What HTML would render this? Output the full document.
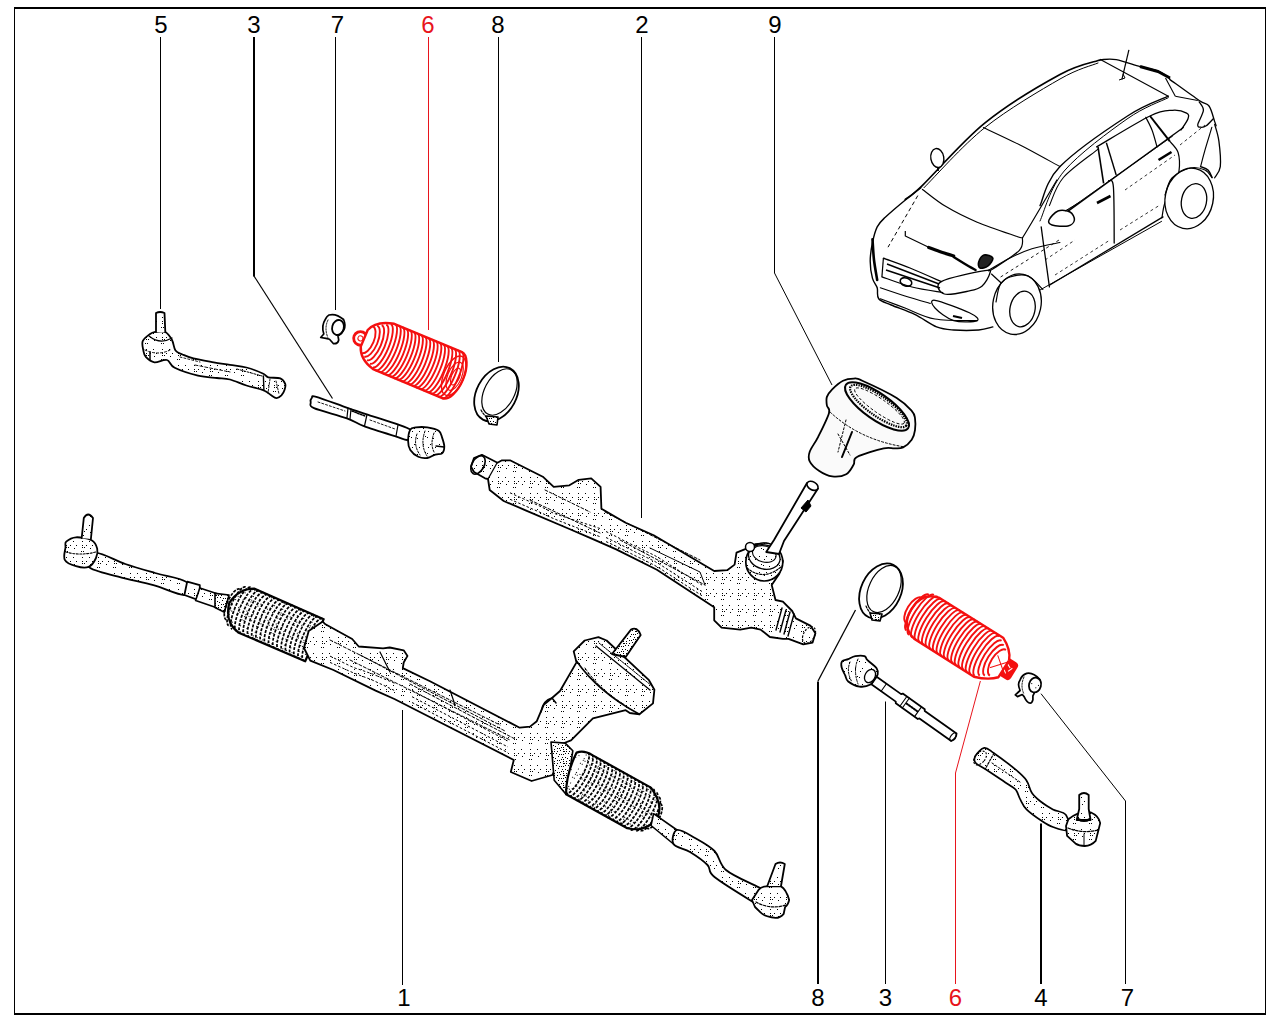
<!DOCTYPE html>
<html><head><meta charset="utf-8"><style>
html,body{margin:0;padding:0;background:#fff;width:1280px;height:1024px;overflow:hidden}
svg{display:block;font-family:"Liberation Sans",sans-serif}
</style></head><body>
<svg width="1280" height="1024" viewBox="0 0 1280 1024">
<defs><pattern id="st1" width="16" height="16" patternUnits="userSpaceOnUse"><rect width="16" height="16" fill="#fff"/><rect x="10" y="4" width="1" height="1" fill="#000"/><rect x="12" y="1" width="1" height="1" fill="#000"/><rect x="2" y="3" width="1" height="1" fill="#000"/><rect x="6" y="1" width="1" height="1" fill="#000"/><rect x="2" y="13" width="1" height="1" fill="#000"/><rect x="3" y="7" width="1" height="1" fill="#000"/><rect x="1" y="7" width="1" height="1" fill="#000"/><rect x="9" y="13" width="1" height="1" fill="#000"/><rect x="4" y="3" width="1" height="1" fill="#000"/><rect x="2" y="1" width="1" height="1" fill="#000"/></pattern><pattern id="st2" width="12" height="12" patternUnits="userSpaceOnUse"><rect width="12" height="12" fill="#fff"/><rect x="9" y="3" width="1" height="1" fill="#000"/><rect x="7" y="10" width="1" height="1" fill="#000"/><rect x="8" y="6" width="1" height="1" fill="#000"/><rect x="5" y="7" width="1" height="1" fill="#000"/><rect x="5" y="4" width="1" height="1" fill="#000"/><rect x="3" y="2" width="1" height="1" fill="#000"/><rect x="11" y="3" width="1" height="1" fill="#000"/><rect x="1" y="9" width="1" height="1" fill="#000"/><rect x="11" y="7" width="1" height="1" fill="#000"/><rect x="4" y="9" width="1" height="1" fill="#000"/><rect x="1" y="1" width="1" height="1" fill="#000"/><rect x="2" y="5" width="1" height="1" fill="#000"/><rect x="2" y="7" width="1" height="1" fill="#000"/><rect x="6" y="0" width="1" height="1" fill="#000"/><rect x="10" y="1" width="1" height="1" fill="#000"/><rect x="11" y="5" width="1" height="1" fill="#000"/><rect x="11" y="10" width="1" height="1" fill="#000"/><rect x="9" y="10" width="1" height="1" fill="#000"/><rect x="7" y="4" width="1" height="1" fill="#000"/><rect x="0" y="7" width="1" height="1" fill="#000"/></pattern><pattern id="st3" width="16" height="16" patternUnits="userSpaceOnUse"><rect width="16" height="16" fill="#fff"/><rect x="11" y="5" width="1" height="1" fill="#000"/><rect x="3" y="15" width="1" height="1" fill="#000"/><rect x="1" y="6" width="1" height="1" fill="#000"/><rect x="9" y="4" width="1" height="1" fill="#000"/><rect x="7" y="12" width="1" height="1" fill="#000"/><rect x="12" y="15" width="1" height="1" fill="#000"/><rect x="14" y="12" width="1" height="1" fill="#000"/></pattern></defs>
<rect x="14.5" y="8" width="1251" height="1006" fill="none" stroke="#000" stroke-width="1"/>
<line x1="14" y1="8" x2="1266" y2="8" stroke="#000" stroke-width="2"/>
<line x1="14" y1="1014" x2="1266" y2="1014" stroke="#000" stroke-width="2"/>
<text x="161" y="32.7" fill="#000" font-size="24" text-anchor="middle">5</text>
<text x="254" y="32.7" fill="#000" font-size="24" text-anchor="middle">3</text>
<text x="337.5" y="32.7" fill="#000" font-size="24" text-anchor="middle">7</text>
<text x="428" y="32.7" fill="#e8141c" font-size="24" text-anchor="middle">6</text>
<text x="498" y="32.7" fill="#000" font-size="24" text-anchor="middle">8</text>
<text x="642" y="32.7" fill="#000" font-size="24" text-anchor="middle">2</text>
<text x="775" y="32.7" fill="#000" font-size="24" text-anchor="middle">9</text>
<text x="404" y="1006" fill="#000" font-size="24" text-anchor="middle">1</text>
<text x="818" y="1006" fill="#000" font-size="24" text-anchor="middle">8</text>
<text x="885.5" y="1006" fill="#000" font-size="24" text-anchor="middle">3</text>
<text x="955.5" y="1006" fill="#e8141c" font-size="24" text-anchor="middle">6</text>
<text x="1041" y="1006" fill="#000" font-size="24" text-anchor="middle">4</text>
<text x="1127.5" y="1006" fill="#000" font-size="24" text-anchor="middle">7</text>
<polyline points="160.5,37.0 160.5,309.0" fill="none" stroke="#000" stroke-width="1.0" stroke-linejoin="round" />
<polyline points="254.0,37.0 254.0,276.5" fill="none" stroke="#000" stroke-width="2" stroke-linejoin="round" />
<polyline points="254.0,276.0 332.5,398.5" fill="none" stroke="#000" stroke-width="1.2" stroke-linejoin="round" />
<polyline points="335.5,37.0 335.5,310.0" fill="none" stroke="#000" stroke-width="1.0" stroke-linejoin="round" />
<polyline points="428.5,37.0 428.5,330.0" fill="none" stroke="#e8141c" stroke-width="1.0" stroke-linejoin="round" />
<polyline points="498.5,37.0 498.5,362.0" fill="none" stroke="#000" stroke-width="1.0" stroke-linejoin="round" />
<polyline points="641.5,37.0 641.5,518.0" fill="none" stroke="#000" stroke-width="1.0" stroke-linejoin="round" />
<polyline points="774.5,37.0 774.5,273.0 832.0,385.0" fill="none" stroke="#000" stroke-width="1.0" stroke-linejoin="round" />
<polyline points="402.5,985.0 402.5,710.0" fill="none" stroke="#000" stroke-width="1.0" stroke-linejoin="round" />
<polyline points="818.0,984.0 818.0,681.5" fill="none" stroke="#000" stroke-width="2" stroke-linejoin="round" />
<polyline points="818.0,681.0 855.5,610.0" fill="none" stroke="#000" stroke-width="1.3" stroke-linejoin="round" />
<polyline points="885.5,984.0 885.5,701.5" fill="none" stroke="#000" stroke-width="1.0" stroke-linejoin="round" />
<polyline points="955.5,984.0 955.5,773.0 980.4,681.0" fill="none" stroke="#e8141c" stroke-width="1.0" stroke-linejoin="round" />
<polyline points="1041.0,984.0 1041.0,823.5" fill="none" stroke="#000" stroke-width="2" stroke-linejoin="round" />
<polyline points="1125.5,984.0 1125.5,801.0 1041.0,693.7" fill="none" stroke="#000" stroke-width="1.0" stroke-linejoin="round" />
<path d="M155.2,331.9 C152.6,332.3 151.8,332.6 149.7,334.2 C147.6,335.8 143.8,338.5 142.7,341.2 C141.6,343.9 142.9,348.0 143.4,350.6 C143.9,353.2 144.0,354.9 145.8,356.9 C147.6,358.8 150.9,361.8 154.4,362.3 C157.9,362.8 163.5,359.1 166.9,360.0 C170.3,360.9 169.5,365.2 174.7,367.8 C179.9,370.4 191.0,373.9 198.0,375.6 C205.0,377.3 211.6,377.4 216.9,378.0 C222.2,378.6 225.1,378.2 230.0,379.5 C234.9,380.8 240.8,383.7 246.4,385.5 C252.1,387.3 259.9,388.9 263.9,390.5 C267.9,392.1 268.4,393.5 270.5,394.8 C272.6,396.1 274.7,398.0 276.5,398.1 C278.3,398.2 280.0,396.8 281.4,395.4 C282.8,393.9 284.1,391.3 284.7,389.4 C285.3,387.5 285.9,385.7 285.2,383.9 C284.5,382.1 283.1,379.5 280.3,378.4 C277.5,377.3 271.2,378.1 268.3,377.3 C265.4,376.5 266.4,375.1 262.8,373.5 C259.2,371.9 251.9,368.9 246.4,367.5 C240.9,366.1 235.4,365.7 230.0,364.8 C224.6,363.9 219.8,363.4 213.7,362.3 C207.6,361.2 198.6,359.7 193.4,358.4 C188.2,357.1 185.5,355.8 182.5,354.5 C179.5,353.2 177.2,353.0 175.5,350.6 C173.8,348.2 173.7,343.1 172.0,340.0 C170.3,336.9 168.1,333.4 165.3,332.0 C162.5,330.6 157.8,331.5 155.2,331.9 Z" fill="url(#st1)" stroke="#000" stroke-width="1.8" stroke-linejoin="round" stroke-linecap="round" />
<path d="M156,332 L156,313 Q160,311 164.5,313 L165.3,332" fill="url(#st1)" stroke="#000" stroke-width="1.8" stroke-linejoin="round" stroke-linecap="round" />
<path d="M149,336 Q160,345 172,338" fill="none" stroke="#000" stroke-width="1.2" stroke-linejoin="round" stroke-linecap="round" />
<path d="M145,350 Q158,356 170,350" fill="none" stroke="#000" stroke-width="1.0" stroke-linejoin="round" stroke-linecap="round" stroke-dasharray="2 2"/>
<path d="M150,352 L150,360" fill="none" stroke="#000" stroke-width="1.5" stroke-linejoin="round" stroke-linecap="round" />
<path d="M263.4,376 L263.9,390.5" fill="none" stroke="#000" stroke-width="1.4" stroke-linejoin="round" stroke-linecap="round" />
<path d="M270,379 L268,393 M276,381 L279,394" fill="none" stroke="#000" stroke-width="0.9" stroke-linejoin="round" stroke-linecap="round" stroke-dasharray="2 1.5"/>
<path d="M237,369 L262,376" fill="none" stroke="#000" stroke-width="1.0" stroke-linejoin="round" stroke-linecap="round" stroke-dasharray="2 1.5"/>
<path d="M195,365 L230,372" fill="none" stroke="#000" stroke-width="0.9" stroke-linejoin="round" stroke-linecap="round" stroke-dasharray="3 2"/>
<path d="M180,357 L200,362" fill="none" stroke="#000" stroke-width="0.9" stroke-linejoin="round" stroke-linecap="round" stroke-dasharray="2 2"/>
<path d="M329,315 Q336,313 343.6,319.5 Q346,325 344,329.6 Q342,334 338,336 L338.7,340 Q338,344 333.5,343.7 L329.5,339.3 L326,338.4 L320.7,337.5 L323.8,334 Q321,326 325.5,319 Q327,316 329,315 Z" fill="#fff" stroke="#000" stroke-width="1.7" stroke-linejoin="round" stroke-linecap="round" />
<ellipse cx="338" cy="327.5" rx="5.8" ry="7.6" transform="rotate(15 338 327.5)" fill="none" stroke="#000" stroke-width="1.8"/>
<path d="M328,320 Q324,328 328,338" fill="none" stroke="#000" stroke-width="1.0" stroke-linejoin="round" stroke-linecap="round" stroke-dasharray="1.5 1.5"/>
<g transform="translate(362,338.5) rotate(22.7)">
<circle cx="-1.5" cy="0.5" r="6.8" fill="#fff" stroke="#f41010" stroke-width="2.8"/>
<circle cx="-1.5" cy="0.5" r="2.5" fill="none" stroke="#f41010" stroke-width="1"/>
<path d="M2,-10 Q6,-22 24,-26 L97,-26 A12 25 0 0 1 97,24 L22,24 Q6,20 2,8 Z" fill="#fff" stroke="#f41010" stroke-width="2.4" stroke-linejoin="round" stroke-linecap="round" />
<path d="M5.0,-15.6 A7 14.6 0 0 1 5.0,13.6" fill="none" stroke="#f41010" stroke-width="1.9"/>
<path d="M9.0,-17.8 A7 16.8 0 0 1 9.0,15.8" fill="none" stroke="#f41010" stroke-width="1.9"/>
<path d="M13.0,-20.0 A7 19.0 0 0 1 13.0,18.0" fill="none" stroke="#f41010" stroke-width="1.9"/>
<path d="M17.0,-22.2 A7 21.2 0 0 1 17.0,20.2" fill="none" stroke="#f41010" stroke-width="1.9"/>
<path d="M21.0,-24.4 A7 23.4 0 0 1 21.0,22.4" fill="none" stroke="#f41010" stroke-width="1.9"/>
<path d="M25.0,-26.0 A7 25.0 0 0 1 25.0,24.0" fill="none" stroke="#f41010" stroke-width="1.9"/>
<path d="M29.0,-26.0 A7 25.0 0 0 1 29.0,24.0" fill="none" stroke="#f41010" stroke-width="1.9"/>
<path d="M33.0,-26.0 A7 25.0 0 0 1 33.0,24.0" fill="none" stroke="#f41010" stroke-width="1.9"/>
<path d="M37.0,-26.0 A7 25.0 0 0 1 37.0,24.0" fill="none" stroke="#f41010" stroke-width="1.9"/>
<path d="M41.0,-26.0 A7 25.0 0 0 1 41.0,24.0" fill="none" stroke="#f41010" stroke-width="1.9"/>
<path d="M45.0,-26.0 A7 25.0 0 0 1 45.0,24.0" fill="none" stroke="#f41010" stroke-width="1.9"/>
<path d="M49.0,-26.0 A7 25.0 0 0 1 49.0,24.0" fill="none" stroke="#f41010" stroke-width="1.9"/>
<path d="M53.0,-26.0 A7 25.0 0 0 1 53.0,24.0" fill="none" stroke="#f41010" stroke-width="1.9"/>
<path d="M57.0,-26.0 A7 25.0 0 0 1 57.0,24.0" fill="none" stroke="#f41010" stroke-width="1.9"/>
<path d="M61.0,-26.0 A7 25.0 0 0 1 61.0,24.0" fill="none" stroke="#f41010" stroke-width="1.9"/>
<path d="M65.0,-26.0 A7 25.0 0 0 1 65.0,24.0" fill="none" stroke="#f41010" stroke-width="1.9"/>
<path d="M69.0,-26.0 A7 25.0 0 0 1 69.0,24.0" fill="none" stroke="#f41010" stroke-width="1.9"/>
<path d="M73.0,-26.0 A7 25.0 0 0 1 73.0,24.0" fill="none" stroke="#f41010" stroke-width="1.9"/>
<path d="M77.0,-26.0 A7 25.0 0 0 1 77.0,24.0" fill="none" stroke="#f41010" stroke-width="1.9"/>
<path d="M81.0,-26.0 A7 25.0 0 0 1 81.0,24.0" fill="none" stroke="#f41010" stroke-width="1.9"/>
<path d="M85.0,-26.0 A7 25.0 0 0 1 85.0,24.0" fill="none" stroke="#f41010" stroke-width="1.9"/>
<path d="M89.0,-26.0 A7 25.0 0 0 1 89.0,24.0" fill="none" stroke="#f41010" stroke-width="1.9"/>
<path d="M93.0,-26.0 A7 25.0 0 0 1 93.0,24.0" fill="none" stroke="#f41010" stroke-width="1.9"/>
<path d="M97.0,-26.0 A7 25.0 0 0 1 97.0,24.0" fill="none" stroke="#f41010" stroke-width="1.9"/>
<ellipse cx="99" cy="-1" rx="10" ry="21" fill="none" stroke="#f41010" stroke-width="1.4"/>
<ellipse cx="100" cy="-1" rx="7" ry="15" fill="none" stroke="#f41010" stroke-width="1.2"/>
<ellipse cx="101" cy="-1" rx="4" ry="9" fill="none" stroke="#f41010" stroke-width="1.1"/>
</g>
<ellipse cx="496.5" cy="394" rx="20" ry="29" transform="rotate(28 496.5 394)" fill="#fff" stroke="#000" stroke-width="1.8"/>
<ellipse cx="499.5" cy="392" rx="15" ry="25" transform="rotate(28 499.5 392)" fill="none" stroke="#000" stroke-width="1.2"/>
<path d="M481,410 Q486,419 495,422" fill="none" stroke="#000" stroke-width="1.2" stroke-linejoin="round" stroke-linecap="round" stroke-dasharray="2 1.5"/>
<path d="M486,416 L489,424 L497,425 L498,417 Z" fill="url(#st2)" stroke="#000" stroke-width="1.6" stroke-linejoin="round" stroke-linecap="round" />
<path d="M311.8,397.9 C312.7,396.9 310.3,395.1 316.3,396.8 C322.3,398.5 339.3,405.1 348.0,408.1 C356.7,411.1 358.0,411.3 368.4,414.9 C378.8,418.5 403.7,425.5 410.3,429.6 C416.9,433.8 410.6,438.7 408.1,439.8 C405.7,440.9 403.0,438.7 395.6,436.4 C388.2,434.1 372.0,429.2 363.9,426.2 C355.8,423.2 355.2,421.3 346.9,418.3 C338.6,415.3 320.0,410.7 314.0,408.1 C308.0,405.5 311.1,404.2 310.7,402.5 C310.3,400.8 310.9,398.8 311.8,397.9 Z" fill="#fff" stroke="#000" stroke-width="1.8" stroke-linejoin="round" stroke-linecap="round" />
<path d="M348,408.1 L346.9,418.3 M351,409 L350,419 M367,414.5 L364.5,426 M398,425 L396,436" fill="none" stroke="#000" stroke-width="1.2" stroke-linejoin="round" stroke-linecap="round" />
<path d="M318,402 L345,411 M370,420 L395,429" fill="none" stroke="#000" stroke-width="0.9" stroke-linejoin="round" stroke-linecap="round" stroke-dasharray="2 2"/>
<path d="M352,411 L365,416" fill="none" stroke="#000" stroke-width="1.6" stroke-linejoin="round" stroke-linecap="round" stroke-dasharray="1.5 1.5"/>
<path d="M410.3,429.6 C411.6,427.3 413.2,427.8 416.0,427.4 C418.8,427.0 423.5,426.8 427.3,427.4 C431.1,428.0 436.2,429.1 438.7,430.8 C441.2,432.5 441.2,435.0 442.1,437.6 C443.0,440.2 444.3,444.0 444.3,446.6 C444.3,449.2 443.6,452.1 442.1,453.4 C440.6,454.7 437.8,453.8 435.3,454.6 C432.8,455.4 430.1,457.6 427.3,458.0 C424.5,458.4 421.1,458.1 418.3,456.8 C415.5,455.5 412.0,452.6 410.3,450.0 C408.6,447.4 408.1,444.4 408.1,441.0 C408.1,437.6 409.0,431.9 410.3,429.6 Z" fill="url(#st3)" stroke="#000" stroke-width="1.8" stroke-linejoin="round" stroke-linecap="round" />
<path d="M417,434 Q413,445 420,455 M425,431 Q420,445 427,456 M434,433 Q430,444 434,452" fill="none" stroke="#000" stroke-width="1.0" stroke-linejoin="round" stroke-linecap="round" stroke-dasharray="2 1.5"/>
<path d="M436,446 L444,447" fill="none" stroke="#000" stroke-width="1.3" stroke-linejoin="round" stroke-linecap="round" />
<polygon points="471.0,466.6 474.0,458.0 481.9,454.8 497.5,462.7 502.0,460.3 510.0,460.3 542.8,476.7 553.7,486.9 569.4,485.3 578.7,479.8 591.2,478.3 600.6,486.9 601.4,508.7 625.6,522.8 653.7,535.3 714.2,571.0 727.2,570.2 734.6,564.6 736.5,552.6 745.8,548.9 755.0,544.2 766.2,543.3 777.3,549.8 782.9,561.0 779.2,574.0 771.7,585.0 775.5,600.0 782.9,601.7 792.2,611.0 795.9,618.4 810.7,625.9 815.4,633.3 812.6,642.6 803.3,644.4 788.5,638.9 782.9,638.9 769.9,637.0 760.6,629.6 751.3,627.7 740.2,629.6 721.6,627.7 714.2,620.3 714.2,607.3 656.9,569.7 616.2,549.4 591.2,538.4 569.4,529.0 525.6,510.3 503.7,501.0 489.7,490.0 488.0,479.0 485.0,478.3 474.0,472.0" fill="url(#st1)" stroke="#000" stroke-width="1.8" stroke-linejoin="round" />
<ellipse cx="478" cy="465" rx="6" ry="10" transform="rotate(30 478 465)" fill="none" stroke="#000" stroke-width="1.6"/>
<path d="M488,479 L497,463" fill="none" stroke="#000" stroke-width="1.2" stroke-linejoin="round" stroke-linecap="round" />
<path d="M530,500 L600,533 M545,490 L590,512" fill="none" stroke="#000" stroke-width="1.0" stroke-linejoin="round" stroke-linecap="round" stroke-dasharray="3 2"/>
<path d="M605,512 L700,560 M620,540 L705,585" fill="none" stroke="#000" stroke-width="1.0" stroke-linejoin="round" stroke-linecap="round" stroke-dasharray="3 2"/>
<path d="M650,548 L700,572 L705,585" fill="none" stroke="#000" stroke-width="1.0" stroke-linejoin="round" stroke-linecap="round" />
<polyline points="606.0,531.5 612.0,534.5 618.0,537.5 624.0,540.7 630.0,543.7 636.0,546.5 642.0,549.4 648.0,552.3 654.0,555.1 660.0,558.6 666.0,562.4 672.0,566.2 678.0,570.0 684.0,573.8 690.0,577.5 696.0,581.3 702.0,585.1" fill="none" stroke="#000" stroke-width="1.0" stroke-dasharray="2.5 2"/>
<polyline points="606.0,537.5 612.0,540.4 618.0,543.3 624.0,546.4 630.0,549.3 636.0,552.3 642.0,555.2 648.0,558.1 654.0,561.0 660.0,564.5 666.0,568.4 672.0,572.2 678.0,576.1 684.0,579.9 690.0,583.8 696.0,587.6 702.0,591.5" fill="none" stroke="#000" stroke-width="1.0" stroke-dasharray="2.5 2"/>
<polyline points="606.0,541.6 612.0,544.3 618.0,547.1 624.0,550.1 630.0,553.1 636.0,556.1 642.0,559.1 648.0,562.0 654.0,565.0 660.0,568.5 666.0,572.4 672.0,576.3 678.0,580.2 684.0,584.1 690.0,588.0 696.0,591.8 702.0,595.7" fill="none" stroke="#000" stroke-width="1.0" stroke-dasharray="2.5 2"/>
<polyline points="510.0,492.8 516.0,495.5 522.0,498.2 528.0,500.8 534.0,503.5 540.0,506.2 546.0,509.2 552.0,512.5 558.0,514.8 564.0,516.8 570.0,518.7 576.0,520.6 582.0,522.6 588.0,524.5 594.0,526.5 600.0,528.5" fill="none" stroke="#000" stroke-width="1.0" stroke-dasharray="2.5 2"/>
<polyline points="510.0,499.3 516.0,501.9 522.0,504.5 528.0,507.1 534.0,509.7 540.0,512.3 546.0,515.1 552.0,517.9 558.0,520.4 564.0,522.7 570.0,525.0 576.0,527.4 582.0,529.7 588.0,532.0 594.0,534.4 600.0,536.7" fill="none" stroke="#000" stroke-width="1.0" stroke-dasharray="2.5 2"/>
<ellipse cx="764.3" cy="562" rx="18.5" ry="19" fill="url(#st3)" stroke="#000" stroke-width="1.7"/>
<ellipse cx="764.3" cy="557" rx="16" ry="12" transform="rotate(15 764.3 557)" fill="none" stroke="#000" stroke-width="1.3"/>
<ellipse cx="764.3" cy="554" rx="12" ry="8" transform="rotate(15 764.3 554)" fill="none" stroke="#000" stroke-width="1.1"/>
<path d="M747,568 Q764,582 782,566" fill="none" stroke="#000" stroke-width="1.2" stroke-linejoin="round" stroke-linecap="round" stroke-dasharray="2 1.5"/>
<circle cx="750" cy="547" r="4.5" fill="#fff" stroke="#000" stroke-width="1.5"/>
<polygon points="766.2,552.0 774.0,540.0 807.0,483.0 818.0,488.6 784.0,541.0 779.0,554.0" fill="#fff" stroke="#000" stroke-width="1.8" stroke-linejoin="round" />
<ellipse cx="812.5" cy="485.8" rx="6" ry="4" transform="rotate(30 812.5 485.8)" fill="#fff" stroke="#000" stroke-width="1.6"/>
<polygon points="801.0,508.0 808.0,500.0 811.0,506.0 806.0,512.0" fill="#000" stroke="#000" stroke-width="1" stroke-linejoin="round" />
<path d="M782,608 L776,630 M786,610 L780,632 M790,612 L784,634 M794,614 L788,636" fill="none" stroke="#000" stroke-width="1.4" stroke-linejoin="round" stroke-linecap="round" />
<ellipse cx="809" cy="635" rx="5.5" ry="9" transform="rotate(30 809 635)" fill="none" stroke="#000" stroke-width="1.2" stroke-dasharray="2 1.5"/>
<path d="M826.9,396.9 C827.8,394.2 829.5,392.0 832.2,389.3 C834.9,386.6 839.4,382.5 843.0,380.7 C846.6,378.9 850.5,378.6 853.7,378.6 C856.9,378.6 855.1,377.5 862.3,380.7 C869.5,383.9 888.5,392.9 896.7,397.9 C904.9,402.9 908.7,407.4 911.7,410.8 C914.8,414.2 914.5,415.1 915.0,418.3 C915.5,421.5 915.5,426.6 915.0,430.2 C914.5,433.8 913.7,436.9 911.7,439.8 C909.7,442.7 906.0,446.0 903.1,447.4 C900.2,448.8 897.7,448.2 894.5,448.4 C891.3,448.6 890.0,447.0 883.8,448.4 C877.5,449.8 862.0,454.3 857.0,457.0 C852.0,459.7 855.5,461.6 853.7,464.5 C851.9,467.4 849.8,472.2 846.2,474.2 C842.6,476.2 836.7,476.9 832.2,476.4 C827.7,475.9 823.0,473.5 819.3,471.0 C815.5,468.5 811.3,464.5 809.7,461.3 C808.1,458.1 808.3,455.8 809.7,451.7 C811.1,447.6 815.1,443.1 818.3,436.6 C821.5,430.2 827.6,418.2 829.0,413.0 C830.4,407.8 827.2,408.2 826.9,405.5 C826.5,402.8 826.0,399.6 826.9,396.9 Z" fill="#fafafa" stroke="#000" stroke-width="1.8" stroke-linejoin="round" stroke-linecap="round" />
<ellipse cx="877" cy="406.5" rx="38" ry="13" transform="rotate(35 877 406.5)" fill="none" stroke="#000" stroke-width="2.0"/>
<ellipse cx="878.5" cy="406" rx="34" ry="10" transform="rotate(35 878.5 406)" fill="none" stroke="#000" stroke-width="2.2" stroke-dasharray="1.5 1"/>
<ellipse cx="879.5" cy="406" rx="30" ry="7" transform="rotate(35 879.5 406)" fill="none" stroke="#000" stroke-width="0.9" stroke-dasharray="3 2"/>
<path d="M830,412 Q860,440 905,447" fill="none" stroke="#000" stroke-width="1.0" stroke-linejoin="round" stroke-linecap="round" stroke-dasharray="2 2"/>
<path d="M838,434 L850,455 M846,420 L838,452" fill="none" stroke="#000" stroke-width="1.0" stroke-linejoin="round" stroke-linecap="round" stroke-dasharray="2 2"/>
<path d="M852,432 L842,457" fill="none" stroke="#000" stroke-width="2.0" stroke-linejoin="round" stroke-linecap="round" />
<path d="M905.3,199.4 C908.2,197.1 909.2,198.1 922.5,185.3 C935.8,172.5 962.1,141.3 985.0,122.8 C1007.9,104.3 1040.7,84.9 1060.0,74.4 C1079.3,63.9 1094.0,62.2 1100.8,59.7" fill="none" stroke="#000" stroke-width="1.7" stroke-linejoin="round" stroke-linecap="round" />
<path d="M924.0,187.7 C934.2,177.7 962.3,145.6 985.0,127.5 C1007.7,109.4 1041.2,89.8 1060.0,79.0 C1078.8,68.2 1091.7,65.7 1098.0,63.0" fill="none" stroke="#000" stroke-width="1.0" stroke-linejoin="round" stroke-linecap="round" />
<path d="M1100.8,59.7 C1103.4,59.7 1109.6,58.5 1116.2,59.7 C1122.8,60.9 1133.2,64.8 1140.2,66.7 C1147.2,68.6 1153.5,69.0 1158.4,71.0 C1163.3,73.0 1167.8,77.2 1169.7,78.5" fill="none" stroke="#000" stroke-width="1.3" stroke-linejoin="round" stroke-linecap="round" />
<polyline points="1140.0,66.5 1158.0,71.5 1170.0,78.0" fill="none" stroke="#000" stroke-width="3.0" stroke-linejoin="round" />
<path d="M1169.7,79.4 C1174.6,82.9 1192.7,96.1 1199.2,100.5 C1205.8,104.9 1206.4,102.5 1209.0,106.0 C1211.6,109.5 1213.5,118.3 1214.7,121.6 C1215.9,124.9 1215.9,125.1 1216.1,125.8" fill="none" stroke="#000" stroke-width="1.3" stroke-linejoin="round" stroke-linecap="round" />
<polyline points="1165.5,78.0 1175.3,96.2" fill="none" stroke="#000" stroke-width="1.1" stroke-linejoin="round" />
<polyline points="1175.3,96.2 1197.8,100.5" fill="none" stroke="#000" stroke-width="1.1" stroke-linejoin="round" />
<path d="M1199.2,101.9 C1199.9,103.3 1203.6,106.5 1203.4,110.3 C1203.2,114.0 1198.3,121.6 1197.8,124.4 C1197.3,127.2 1199.2,127.0 1200.6,127.2 C1202.0,127.4 1204.1,127.2 1206.2,125.8 C1208.3,124.4 1212.1,119.9 1213.3,118.7" fill="none" stroke="#000" stroke-width="1.3" stroke-linejoin="round" stroke-linecap="round" />
<path d="M1214.7,124.4 C1215.4,127.2 1218.0,134.2 1218.9,141.2 C1219.8,148.2 1221.0,160.5 1220.3,166.6 C1219.6,172.7 1215.6,175.9 1214.7,177.8" fill="none" stroke="#000" stroke-width="1.3" stroke-linejoin="round" stroke-linecap="round" />
<path d="M1211.9,127.2 C1210.8,131.0 1206.9,143.4 1205.0,150.0 C1203.1,156.6 1201.3,163.8 1200.6,166.6" fill="none" stroke="#000" stroke-width="1.1" stroke-linejoin="round" stroke-linecap="round" />
<path d="M1200.6,166.6 C1201.8,167.2 1206.1,168.2 1208.0,170.0 C1209.9,171.8 1211.3,176.2 1212.0,177.5" fill="none" stroke="#000" stroke-width="1.5" stroke-linejoin="round" stroke-linecap="round" />
<path d="M1100.8,59.7 L1168.3,96.2" fill="none" stroke="#000" stroke-width="1.1" stroke-linejoin="round" stroke-linecap="round" />
<path d="M983.4,127.5 C989.5,130.4 1007.2,138.5 1020.0,145.0 C1032.8,151.5 1053.3,163.0 1060.0,166.6" fill="none" stroke="#000" stroke-width="1.1" stroke-linejoin="round" stroke-linecap="round" />
<path d="M1168.3,96.2 C1161.5,99.5 1145.5,104.3 1127.5,116.0 C1109.5,127.7 1074.6,151.7 1060.0,166.6 C1045.4,181.5 1043.3,199.1 1040.0,205.6" fill="none" stroke="#000" stroke-width="1.4" stroke-linejoin="round" stroke-linecap="round" />
<path d="M1168.3,97.7 C1161.4,101.2 1144.3,106.8 1127.0,119.0 C1109.7,131.2 1078.7,154.0 1064.2,171.0 C1049.7,188.0 1044.0,212.7 1040.0,221.0" fill="none" stroke="#000" stroke-width="1.0" stroke-linejoin="round" stroke-linecap="round" />
<polyline points="1128.9,49.8 1121.9,79.4" fill="none" stroke="#000" stroke-width="1.2" stroke-linejoin="round" />
<polyline points="1119.0,80.0 1125.0,78.0 1123.0,74.0" fill="none" stroke="#000" stroke-width="1.0" stroke-linejoin="round" />
<path d="M1056.9,180.0 C1052.7,187.0 1037.6,212.6 1031.9,222.2 C1026.2,231.8 1024.1,235.2 1022.5,237.8" fill="none" stroke="#000" stroke-width="1.2" stroke-linejoin="round" stroke-linecap="round" />
<ellipse cx="937.3" cy="158" rx="6.5" ry="9.5" transform="rotate(-10 937.3 158)" fill="#fff" stroke="#000" stroke-width="1.4"/>
<polyline points="938.0,167.0 938.0,171.0" fill="none" stroke="#000" stroke-width="1.8" stroke-linejoin="round" />
<path d="M921.0,187.8 C918.6,189.6 912.9,193.8 906.9,198.7 C900.9,203.6 890.0,212.8 885.0,217.5 C880.0,222.2 879.3,222.7 877.2,226.9 C875.1,231.1 873.7,236.8 872.5,242.5 C871.3,248.2 870.2,255.2 870.2,261.2 C870.2,267.2 871.3,274.0 872.5,278.4 C873.7,282.8 876.2,284.4 877.2,287.8 C878.2,291.2 876.4,295.8 878.7,298.7 C881.0,301.6 885.2,302.4 891.2,305.0 C897.2,307.6 907.1,310.8 914.7,314.4 C922.3,318.0 930.1,324.3 936.6,326.9 C943.1,329.5 946.7,329.5 953.7,330.0 C960.7,330.5 972.2,330.5 978.7,330.0 C985.2,329.5 990.4,327.4 992.8,326.9" fill="none" stroke="#000" stroke-width="1.4" stroke-linejoin="round" stroke-linecap="round" />
<path d="M922.5,189.4 C926.4,192.3 936.9,201.1 946.0,206.6 C955.1,212.1 965.5,217.3 977.2,222.2 C988.9,227.1 1008.7,233.6 1016.2,236.2 C1023.8,238.8 1021.5,237.5 1022.5,237.8" fill="none" stroke="#000" stroke-width="1.2" stroke-linejoin="round" stroke-linecap="round" />
<path d="M1022.5,237.8 C1022.0,239.9 1024.3,245.1 1019.4,250.3 C1014.4,255.5 998.0,265.6 992.8,269.0 C987.6,272.4 988.9,270.3 988.1,270.6" fill="none" stroke="#000" stroke-width="1.2" stroke-linejoin="round" stroke-linecap="round" />
<polyline points="917.8,195.6 888.0,247.2" fill="none" stroke="#000" stroke-width="1.0" stroke-linejoin="round" stroke-dasharray="4 3"/>
<path d="M883.4,258.1 C887.8,259.8 900.4,264.1 910.0,268.0 C919.6,271.9 936.0,279.3 941.2,281.6" fill="none" stroke="#000" stroke-width="1.2" stroke-linejoin="round" stroke-linecap="round" />
<path d="M881.9,276.9 C886.9,278.6 901.9,284.4 912.0,287.0 C922.1,289.6 937.7,291.6 942.8,292.5" fill="none" stroke="#000" stroke-width="1.2" stroke-linejoin="round" stroke-linecap="round" />
<polyline points="883.4,258.1 881.9,276.9" fill="none" stroke="#000" stroke-width="1.2" stroke-linejoin="round" />
<polyline points="887.0,264.0 939.0,284.0" fill="none" stroke="#000" stroke-width="1.4" stroke-linejoin="round" />
<polyline points="886.0,270.0 940.0,288.0" fill="none" stroke="#000" stroke-width="1.4" stroke-linejoin="round" />
<ellipse cx="906" cy="282" rx="6" ry="4" transform="rotate(20 906 282)" fill="none" stroke="#000" stroke-width="1.6"/>
<path d="M872.5,239.4 C872.8,242.8 873.2,253.2 874.0,260.0 C874.8,266.8 876.7,276.7 877.2,280.0" fill="none" stroke="#000" stroke-width="2.6" stroke-linejoin="round" stroke-linecap="round" />
<path d="M941.2,281.6 C948.0,277.7 976.9,271.9 985.0,270.6 C993.1,269.3 990.2,271.1 989.7,273.7 C989.2,276.3 985.3,283.3 981.9,286.2 C978.5,289.1 975.6,289.6 969.4,290.9 C963.1,292.2 949.1,295.6 944.4,294.0 C939.7,292.4 934.4,285.5 941.2,281.6 Z" fill="none" stroke="#000" stroke-width="1.3" stroke-linejoin="round" stroke-linecap="round" />
<path d="M880.3,287.8 C884.4,289.2 896.7,293.4 905.0,296.0 C913.3,298.6 926.1,302.2 930.3,303.4" fill="none" stroke="#000" stroke-width="1.1" stroke-linejoin="round" stroke-linecap="round" />
<path d="M880.3,298.7 C884.4,300.2 895.9,304.6 905.0,308.0 C914.1,311.4 923.0,316.9 935.0,319.0 C947.0,321.1 970.2,320.3 977.2,320.6" fill="none" stroke="#000" stroke-width="1.1" stroke-linejoin="round" stroke-linecap="round" />
<path d="M935.0,300.3 C940.7,301.1 962.4,309.4 969.4,312.8 C976.4,316.2 979.8,319.3 977.2,320.6 C974.6,321.9 960.7,322.7 953.7,320.6 C946.7,318.5 938.1,311.4 935.0,308.0 C931.9,304.6 929.3,299.5 935.0,300.3 Z" fill="none" stroke="#000" stroke-width="1.2" stroke-linejoin="round" stroke-linecap="round" />
<polyline points="953.0,316.0 962.0,318.0" fill="none" stroke="#000" stroke-width="2.2" stroke-linejoin="round" />
<polyline points="905.3,231.0 905.3,236.0 928.7,247.2" fill="none" stroke="#000" stroke-width="1.2" stroke-linejoin="round" />
<path d="M928.7,247.5 C930.8,248.2 936.8,250.6 941.0,252.0 C945.2,253.4 951.6,255.3 953.7,256.0" fill="none" stroke="#000" stroke-width="3.2" stroke-linejoin="round" stroke-linecap="round" />
<path d="M953.7,257.0 C955.6,258.2 961.4,261.8 965.0,264.0 C968.6,266.2 973.8,269.0 975.6,270.0" fill="none" stroke="#000" stroke-width="2.4" stroke-linejoin="round" stroke-linecap="round" />
<path d="M978.7,262.0 C979.4,259.8 981.6,255.7 984.0,255.0 C986.4,254.3 992.1,256.2 992.8,258.0 C993.5,259.8 990.1,264.3 988.0,266.0 C985.9,267.7 981.5,268.7 980.0,268.0 C978.5,267.3 978.0,264.2 978.7,262.0 Z" fill="#222" stroke="#000" stroke-width="1.6" stroke-linejoin="round" stroke-linecap="round" />
<polyline points="991.2,273.7 1013.1,294.0" fill="none" stroke="#000" stroke-width="1.2" stroke-linejoin="round" />
<polyline points="1011.0,291.0 1015.0,296.0" fill="none" stroke="#000" stroke-width="2.5" stroke-linejoin="round" />
<path d="M988.1,270.6 C991.8,268.5 1002.7,261.6 1010.0,258.0 C1017.3,254.3 1023.6,251.3 1031.9,248.7 C1040.2,246.1 1055.3,243.5 1060.0,242.5" fill="none" stroke="#000" stroke-width="1.1" stroke-linejoin="round" stroke-linecap="round" />
<polyline points="1000.6,277.0 1060.0,239.4" fill="none" stroke="#000" stroke-width="0.9" stroke-linejoin="round" stroke-dasharray="3 3"/>
<ellipse cx="1017" cy="304.2" rx="24" ry="30.5" transform="rotate(12 1017 304.2)" fill="#fff" stroke="#000" stroke-width="1.3"/>
<ellipse cx="1022.5" cy="309" rx="12.5" ry="18" transform="rotate(12 1022.5 309)" fill="none" stroke="#000" stroke-width="1.3"/>
<path d="M996.0,302.0 C996.7,299.2 997.7,289.2 1000.0,285.0 C1002.3,280.8 1005.3,278.5 1010.0,277.0 C1014.7,275.5 1022.5,273.9 1028.0,276.0 C1033.5,278.1 1040.3,287.2 1042.8,289.4" fill="none" stroke="#000" stroke-width="1.2" stroke-linejoin="round" stroke-linecap="round" />
<path d="M1041.2,226.9 C1041.8,231.6 1043.6,245.0 1045.0,255.0 C1046.4,265.0 1048.7,281.6 1049.4,286.9" fill="none" stroke="#000" stroke-width="1.3" stroke-linejoin="round" stroke-linecap="round" />
<path d="M1049.4,205.6 C1051.7,200.9 1055.3,186.9 1063.4,177.5 C1071.5,168.1 1092.1,154.1 1097.8,149.4" fill="none" stroke="#000" stroke-width="1.1" stroke-linejoin="round" stroke-linecap="round" />
<path d="M1096.6,146.9 C1105.5,141.8 1137.3,122.1 1150.0,116.0 C1162.7,109.9 1166.4,110.8 1172.5,110.3 C1178.6,109.8 1184.0,111.7 1186.6,113.1 C1189.2,114.5 1188.9,115.9 1188.0,118.7 C1187.1,121.5 1182.2,128.1 1181.0,130.0" fill="none" stroke="#000" stroke-width="1.3" stroke-linejoin="round" stroke-linecap="round" />
<polyline points="1065.0,213.4 1183.7,127.2" fill="none" stroke="#000" stroke-width="1.4" stroke-linejoin="round" />
<polyline points="1068.0,210.0 1172.8,136.0" fill="none" stroke="#000" stroke-width="0.9" stroke-linejoin="round" />
<polyline points="1098.0,146.9 1103.6,183.4" fill="none" stroke="#000" stroke-width="1.6" stroke-linejoin="round" />
<polyline points="1106.4,142.7 1116.2,175.0" fill="none" stroke="#000" stroke-width="1.4" stroke-linejoin="round" />
<path d="M1145.8,117.3 C1146.8,119.4 1150.1,125.1 1152.0,130.0 C1153.9,134.9 1156.2,144.1 1157.0,146.9" fill="none" stroke="#000" stroke-width="1.2" stroke-linejoin="round" stroke-linecap="round" />
<polyline points="1150.0,116.0 1169.7,141.2" fill="none" stroke="#000" stroke-width="2.0" stroke-linejoin="round" />
<path d="M1108.7,180.6 C1109.5,181.7 1112.5,176.6 1113.4,187.0 C1114.3,197.4 1114.1,233.7 1114.2,243.0" fill="none" stroke="#000" stroke-width="1.3" stroke-linejoin="round" stroke-linecap="round" />
<path d="M1169.7,141.2 C1171.1,143.1 1176.5,147.5 1178.1,152.5 C1179.6,157.5 1179.6,166.5 1179.0,171.2 C1178.4,175.9 1176.7,175.4 1174.4,180.6 C1172.1,185.8 1167.1,196.3 1165.0,202.5 C1162.9,208.7 1162.4,215.4 1161.9,218.0" fill="none" stroke="#000" stroke-width="1.2" stroke-linejoin="round" stroke-linecap="round" />
<polyline points="1097.0,203.0 1110.5,196.0" fill="none" stroke="#000" stroke-width="2.6" stroke-linejoin="round" />
<polyline points="1158.5,160.0 1171.5,152.0" fill="none" stroke="#000" stroke-width="2.6" stroke-linejoin="round" />
<polyline points="1049.4,285.3 1163.4,216.6" fill="none" stroke="#000" stroke-width="1.3" stroke-linejoin="round" />
<polyline points="1040.0,290.0 1161.9,221.2" fill="none" stroke="#000" stroke-width="1.0" stroke-linejoin="round" />
<polyline points="1045.0,260.0 1075.0,240.0" fill="none" stroke="#000" stroke-width="0.8" stroke-linejoin="round" stroke-dasharray="3 3"/>
<polyline points="1055.0,275.0 1110.0,240.0" fill="none" stroke="#000" stroke-width="0.8" stroke-linejoin="round" stroke-dasharray="3 3"/>
<polyline points="1120.0,230.0 1160.0,205.0" fill="none" stroke="#000" stroke-width="0.8" stroke-linejoin="round" stroke-dasharray="3 3"/>
<polyline points="1125.0,190.0 1175.0,155.0" fill="none" stroke="#000" stroke-width="0.8" stroke-linejoin="round" stroke-dasharray="3 3"/>
<polyline points="1180.0,145.0 1205.0,125.0" fill="none" stroke="#000" stroke-width="0.8" stroke-linejoin="round" stroke-dasharray="3 3"/>
<ellipse cx="1189.2" cy="198.5" rx="24" ry="30.5" transform="rotate(12 1189.2 198.5)" fill="#fff" stroke="#000" stroke-width="1.3"/>
<ellipse cx="1194" cy="201" rx="12.5" ry="17.5" transform="rotate(12 1194 201)" fill="none" stroke="#000" stroke-width="1.3"/>
<path d="M1165.0,195.0 C1166.2,192.2 1167.8,182.5 1172.0,178.0 C1176.2,173.5 1184.5,169.3 1190.0,168.0 C1195.5,166.7 1201.3,168.4 1205.0,170.0 C1208.7,171.6 1210.8,176.2 1212.0,177.5" fill="none" stroke="#000" stroke-width="1.2" stroke-linejoin="round" stroke-linecap="round" />
<path d="M1049.0,220.0 C1050.0,217.7 1054.5,212.3 1058.0,211.0 C1061.5,209.7 1067.3,210.5 1070.0,212.0 C1072.7,213.5 1074.7,217.7 1074.4,220.0 C1074.1,222.3 1071.7,225.2 1068.0,226.0 C1064.3,226.8 1055.2,226.0 1052.0,225.0 C1048.8,224.0 1048.0,222.3 1049.0,220.0 Z" fill="#fff" stroke="#000" stroke-width="1.5" stroke-linejoin="round" stroke-linecap="round" />
<polyline points="1065.0,211.0 1080.0,202.0" fill="none" stroke="#000" stroke-width="1.0" stroke-linejoin="round" />
<path d="M95.8,552.8 C101.9,552.3 115.4,560.6 125.3,564.0 C135.2,567.4 144.9,570.1 155.0,573.0 C165.1,575.9 180.9,577.9 185.8,581.6 C190.7,585.3 189.8,594.4 184.4,595.0 C179.0,595.6 164.4,588.2 153.4,585.2 C142.4,582.2 129.1,579.8 118.3,576.7 C107.5,573.7 92.5,570.9 88.7,566.9 C85.0,562.9 89.7,553.3 95.8,552.8 Z" fill="url(#st1)" stroke="#000" stroke-width="1.8" stroke-linejoin="round" stroke-linecap="round" />
<polygon points="187.2,581.6 199.8,585.2 199.8,600.6 184.4,595.0" fill="url(#st1)" stroke="#000" stroke-width="1.8" stroke-linejoin="round" />
<polygon points="199.8,588.0 221.0,595.0 216.7,607.7 195.6,600.6" fill="url(#st1)" stroke="#000" stroke-width="1.6" stroke-linejoin="round" />
<path d="M66.2,541.6 C68.0,540.0 71.8,537.5 76.0,537.3 C80.2,537.1 88.1,538.3 91.6,540.2 C95.1,542.1 96.5,545.6 97.2,548.6 C97.9,551.6 97.4,555.0 96.0,558.0 C94.6,561.0 92.0,565.5 88.7,566.9 C85.4,568.3 80.0,567.4 76.0,566.2 C72.0,565.0 66.5,563.0 64.8,559.8 C63.0,556.6 65.3,550.2 65.5,547.2 C65.7,544.2 64.5,543.2 66.2,541.6 Z" fill="url(#st1)" stroke="#000" stroke-width="1.8" stroke-linejoin="round" stroke-linecap="round" />
<path d="M66,552 Q80,556 96,552" fill="none" stroke="#000" stroke-width="1.1" stroke-linejoin="round" stroke-linecap="round" stroke-dasharray="2 1.5"/>
<path d="M81.7,538 L83.8,518 Q88,511 93,518 L90.9,539" fill="url(#st1)" stroke="#000" stroke-width="1.8" stroke-linejoin="round" stroke-linecap="round" />
<polygon points="215.0,593.4 229.0,595.0 224.4,612.2 215.0,607.5" fill="url(#st2)" stroke="#000" stroke-width="1.6" stroke-linejoin="round" />
<g transform="translate(229,606) rotate(23.7)">
<path d="M16,-26 L92,-26 L92,20 L19,20.5 Q2,16 -1,-3 Q2,-20 16,-26 Z" fill="url(#st1)" stroke="#000" stroke-width="2.2" stroke-linejoin="round" stroke-linecap="round" />
<path d="M3.0,-19.7 A6 16.7 0 0 0 3.0,13.7" fill="none" stroke="#000" stroke-width="1.7" stroke-dasharray="3 1.3"/>
<path d="M7.6,-24.1 A6 21.1 0 0 0 7.6,18.1" fill="none" stroke="#000" stroke-width="1.7" stroke-dasharray="3 1.3"/>
<path d="M12.2,-25.9 A6 22.9 0 0 0 12.2,19.9" fill="none" stroke="#000" stroke-width="1.7" stroke-dasharray="3 1.3"/>
<path d="M16.8,-26.0 A6 23.0 0 0 0 16.8,20.0" fill="none" stroke="#000" stroke-width="1.7" stroke-dasharray="3 1.3"/>
<path d="M21.4,-26.0 A6 23.0 0 0 0 21.4,20.0" fill="none" stroke="#000" stroke-width="1.7" stroke-dasharray="3 1.3"/>
<path d="M26.0,-26.0 A6 23.0 0 0 0 26.0,20.0" fill="none" stroke="#000" stroke-width="1.7" stroke-dasharray="3 1.3"/>
<path d="M30.6,-26.0 A6 23.0 0 0 0 30.6,20.0" fill="none" stroke="#000" stroke-width="1.7" stroke-dasharray="3 1.3"/>
<path d="M35.2,-26.0 A6 23.0 0 0 0 35.2,20.0" fill="none" stroke="#000" stroke-width="1.7" stroke-dasharray="3 1.3"/>
<path d="M39.8,-26.0 A6 23.0 0 0 0 39.8,20.0" fill="none" stroke="#000" stroke-width="1.7" stroke-dasharray="3 1.3"/>
<path d="M44.4,-26.0 A6 23.0 0 0 0 44.4,20.0" fill="none" stroke="#000" stroke-width="1.7" stroke-dasharray="3 1.3"/>
<path d="M49.0,-26.0 A6 23.0 0 0 0 49.0,20.0" fill="none" stroke="#000" stroke-width="1.7" stroke-dasharray="3 1.3"/>
<path d="M53.6,-26.0 A6 23.0 0 0 0 53.6,20.0" fill="none" stroke="#000" stroke-width="1.7" stroke-dasharray="3 1.3"/>
<path d="M58.2,-26.0 A6 23.0 0 0 0 58.2,20.0" fill="none" stroke="#000" stroke-width="1.7" stroke-dasharray="3 1.3"/>
<path d="M62.8,-26.0 A6 23.0 0 0 0 62.8,20.0" fill="none" stroke="#000" stroke-width="1.7" stroke-dasharray="3 1.3"/>
<path d="M67.4,-26.0 A6 23.0 0 0 0 67.4,20.0" fill="none" stroke="#000" stroke-width="1.7" stroke-dasharray="3 1.3"/>
<path d="M72.0,-26.0 A6 23.0 0 0 0 72.0,20.0" fill="none" stroke="#000" stroke-width="1.7" stroke-dasharray="3 1.3"/>
<path d="M76.6,-26.0 A6 23.0 0 0 0 76.6,20.0" fill="none" stroke="#000" stroke-width="1.7" stroke-dasharray="3 1.3"/>
<path d="M81.2,-26.0 A6 23.0 0 0 0 81.2,20.0" fill="none" stroke="#000" stroke-width="1.7" stroke-dasharray="3 1.3"/>
<path d="M85.8,-26.0 A6 23.0 0 0 0 85.8,20.0" fill="none" stroke="#000" stroke-width="1.7" stroke-dasharray="3 1.3"/>
<path d="M90.4,-26.0 A6 23.0 0 0 0 90.4,20.0" fill="none" stroke="#000" stroke-width="1.7" stroke-dasharray="3 1.3"/>
</g>
<polygon points="322.8,621.6 325.0,624.0 352.2,639.0 358.7,646.5 383.1,648.4 389.7,647.5 403.7,650.3 407.5,655.9 403.7,662.5 402.8,668.1 430.0,681.2 519.7,727.7 530.0,726.6 536.8,721.2 543.7,704.8 552.0,698.0 560.0,691.0 576.5,662.4 573.7,651.4 584.7,640.5 598.4,637.1 606.6,640.5 649.0,680.2 654.4,689.7 653.0,703.4 639.4,714.3 629.8,713.0 625.7,710.2 592.9,718.4 571.0,740.3 564.2,743.0 560.0,760.0 552.4,775.0 531.6,781.0 510.8,772.0 513.8,760.0 394.4,699.0 375.6,690.6 333.4,670.0 310.3,660.6 304.0,648.0 308.7,631.0" fill="url(#st1)" stroke="#000" stroke-width="1.8" stroke-linejoin="round" />
<path d="M576.5,661 Q598,692 639.4,714.3" fill="none" stroke="#000" stroke-width="1.6" stroke-linejoin="round" stroke-linecap="round" />
<path d="M596,646 L650,690" fill="none" stroke="#000" stroke-width="1.3" stroke-linejoin="round" stroke-linecap="round" />
<path d="M599,643 L652,686" fill="none" stroke="#000" stroke-width="1.0" stroke-linejoin="round" stroke-linecap="round" stroke-dasharray="2 1"/>
<path d="M585,668 Q600,690 625,705" fill="none" stroke="#000" stroke-width="1.0" stroke-linejoin="round" stroke-linecap="round" stroke-dasharray="3 2"/>
<path d="M612,654 L631,629.6 Q637,626 640.7,635 L625.7,657 Z" fill="url(#st2)" stroke="#000" stroke-width="1.8" stroke-linejoin="round" stroke-linecap="round" />
<path d="M541,712 Q543,700 552,698 L556,703" fill="none" stroke="#000" stroke-width="1.5" stroke-linejoin="round" stroke-linecap="round" />
<path d="M330,640 L500,725 M350,660 L510,740 M410,684 L515,739 M360,655 L505,731" fill="none" stroke="#000" stroke-width="1.0" stroke-linejoin="round" stroke-linecap="round" stroke-dasharray="3 2"/>
<path d="M380,652 L390,672 M450,690 L455,705" fill="none" stroke="#000" stroke-width="1.2" stroke-linejoin="round" stroke-linecap="round" />
<polyline points="412.0,690.4 418.0,693.6 424.0,696.8 430.0,699.9 436.0,703.1 442.0,706.2 448.0,709.4 454.0,712.6 460.0,715.7 466.0,718.9 472.0,722.0 478.0,725.2 484.0,728.4 490.0,731.5 496.0,734.7 502.0,737.8 508.0,741.0" fill="none" stroke="#000" stroke-width="1.0" stroke-dasharray="2.5 2"/>
<polyline points="412.0,696.7 418.0,699.8 424.0,703.0 430.0,706.1 436.0,709.3 442.0,712.4 448.0,715.5 454.0,718.7 460.0,721.8 466.0,725.0 472.0,728.1 478.0,731.3 484.0,734.4 490.0,737.6 496.0,740.7 502.0,743.9 508.0,747.0" fill="none" stroke="#000" stroke-width="1.0" stroke-dasharray="2.5 2"/>
<polyline points="412.0,702.5 418.0,705.6 424.0,708.8 430.0,711.9 436.0,715.1 442.0,718.2 448.0,721.3 454.0,724.5 460.0,727.6 466.0,730.7 472.0,733.9 478.0,737.0 484.0,740.2 490.0,743.3 496.0,746.4 502.0,749.6 508.0,752.7" fill="none" stroke="#000" stroke-width="1.0" stroke-dasharray="2.5 2"/>
<polyline points="330.0,656.1 336.0,659.0 342.0,662.0 348.0,664.9 354.0,667.7 360.0,669.7 366.0,671.7 372.0,673.8 378.0,676.3 384.0,678.8 390.0,681.3 396.0,683.8" fill="none" stroke="#000" stroke-width="1.0" stroke-dasharray="2.5 2"/>
<polyline points="330.0,662.4 336.0,665.1 342.0,667.8 348.0,670.5 354.0,673.1 360.0,675.4 366.0,677.6 372.0,679.9 378.0,682.7 384.0,685.5 390.0,688.4 396.0,691.2" fill="none" stroke="#000" stroke-width="1.0" stroke-dasharray="2.5 2"/>
<polygon points="551.0,742.0 565.2,743.1 572.8,750.8 566.2,794.5 554.2,780.3" fill="url(#st2)" stroke="#000" stroke-width="1.6" stroke-linejoin="round" />
<g transform="translate(575,770) rotate(29)">
<path d="M-7,-16 Q-2,-22 8,-21.4 L75,-21.4 Q95,-12 95,2 Q93,20 74,25.6 L4,25.6 Q-6,8 -7,-16 Z" fill="url(#st1)" stroke="#000" stroke-width="2.2" stroke-linejoin="round" stroke-linecap="round" />
<path d="M3.0,-21.5 A6 23.5 0 0 1 3.0,25.5" fill="none" stroke="#000" stroke-width="1.7" stroke-dasharray="3 1.3"/>
<path d="M7.4,-21.5 A6 23.5 0 0 1 7.4,25.5" fill="none" stroke="#000" stroke-width="1.7" stroke-dasharray="3 1.3"/>
<path d="M11.8,-21.5 A6 23.5 0 0 1 11.8,25.5" fill="none" stroke="#000" stroke-width="1.7" stroke-dasharray="3 1.3"/>
<path d="M16.2,-21.5 A6 23.5 0 0 1 16.2,25.5" fill="none" stroke="#000" stroke-width="1.7" stroke-dasharray="3 1.3"/>
<path d="M20.6,-21.5 A6 23.5 0 0 1 20.6,25.5" fill="none" stroke="#000" stroke-width="1.7" stroke-dasharray="3 1.3"/>
<path d="M25.0,-21.5 A6 23.5 0 0 1 25.0,25.5" fill="none" stroke="#000" stroke-width="1.7" stroke-dasharray="3 1.3"/>
<path d="M29.4,-21.5 A6 23.5 0 0 1 29.4,25.5" fill="none" stroke="#000" stroke-width="1.7" stroke-dasharray="3 1.3"/>
<path d="M33.8,-21.5 A6 23.5 0 0 1 33.8,25.5" fill="none" stroke="#000" stroke-width="1.7" stroke-dasharray="3 1.3"/>
<path d="M38.2,-21.5 A6 23.5 0 0 1 38.2,25.5" fill="none" stroke="#000" stroke-width="1.7" stroke-dasharray="3 1.3"/>
<path d="M42.6,-21.5 A6 23.5 0 0 1 42.6,25.5" fill="none" stroke="#000" stroke-width="1.7" stroke-dasharray="3 1.3"/>
<path d="M47.0,-21.5 A6 23.5 0 0 1 47.0,25.5" fill="none" stroke="#000" stroke-width="1.7" stroke-dasharray="3 1.3"/>
<path d="M51.4,-21.5 A6 23.5 0 0 1 51.4,25.5" fill="none" stroke="#000" stroke-width="1.7" stroke-dasharray="3 1.3"/>
<path d="M55.8,-21.5 A6 23.5 0 0 1 55.8,25.5" fill="none" stroke="#000" stroke-width="1.7" stroke-dasharray="3 1.3"/>
<path d="M60.2,-21.5 A6 23.5 0 0 1 60.2,25.5" fill="none" stroke="#000" stroke-width="1.7" stroke-dasharray="3 1.3"/>
<path d="M64.6,-21.5 A6 23.5 0 0 1 64.6,25.5" fill="none" stroke="#000" stroke-width="1.7" stroke-dasharray="3 1.3"/>
<path d="M69.0,-21.5 A6 23.5 0 0 1 69.0,25.5" fill="none" stroke="#000" stroke-width="1.7" stroke-dasharray="3 1.3"/>
<path d="M73.4,-21.5 A6 23.5 0 0 1 73.4,25.5" fill="none" stroke="#000" stroke-width="1.7" stroke-dasharray="3 1.3"/>
<path d="M77.8,-21.3 A6 23.3 0 0 1 77.8,25.3" fill="none" stroke="#000" stroke-width="1.7" stroke-dasharray="3 1.3"/>
<path d="M82.2,-19.9 A6 21.9 0 0 1 82.2,23.9" fill="none" stroke="#000" stroke-width="1.7" stroke-dasharray="3 1.3"/>
<path d="M86.6,-17.1 A6 19.1 0 0 1 86.6,21.1" fill="none" stroke="#000" stroke-width="1.7" stroke-dasharray="3 1.3"/>
<path d="M91.0,-12.1 A6 14.1 0 0 1 91.0,16.1" fill="none" stroke="#000" stroke-width="1.7" stroke-dasharray="3 1.3"/>
</g>
<polygon points="653.6,813.7 677.0,830.0 673.5,844.0 651.0,825.5" fill="url(#st1)" stroke="#000" stroke-width="1.6" stroke-linejoin="round" />
<path d="M677.0,830.0 C680.6,829.0 688.8,834.5 695.0,838.0 C701.2,841.5 709.3,845.7 714.5,851.0 C719.7,856.3 719.0,864.1 726.0,870.0 C733.0,875.9 749.4,882.6 756.7,886.4 C764.0,890.2 769.5,889.9 770.0,893.0 C770.5,896.1 762.6,903.4 760.0,905.0 C757.4,906.6 762.0,907.5 754.4,902.8 C746.8,898.1 722.3,883.3 714.5,877.0 C706.7,870.7 711.6,869.2 707.5,865.0 C703.4,860.8 695.7,855.5 690.0,852.0 C684.3,848.5 675.7,847.7 673.5,844.0 C671.3,840.3 673.4,831.0 677.0,830.0 Z" fill="url(#st1)" stroke="#000" stroke-width="1.8" stroke-linejoin="round" stroke-linecap="round" />
<path d="M758.5,889.9 Q762,886 767.3,886.4 L781,886.4 Q786,889 789.2,900.1 Q788,905 785.1,907 L783.7,913.8 Q780,918 775.5,917.9 Q765,917 760.5,912.4 L755,907 L752,900 Z" fill="url(#st1)" stroke="#000" stroke-width="1.8" stroke-linejoin="round" stroke-linecap="round" />
<path d="M756,902 Q770,910 786,905" fill="none" stroke="#000" stroke-width="1.2" stroke-linejoin="round" stroke-linecap="round" stroke-dasharray="2.5 1.5"/>
<path d="M767.3,886 L775.5,864 Q780,861 784.8,864 L781,886" fill="url(#st1)" stroke="#000" stroke-width="1.8" stroke-linejoin="round" stroke-linecap="round" />
<ellipse cx="881" cy="591" rx="20" ry="29" transform="rotate(25 881 591)" fill="#fff" stroke="#000" stroke-width="1.8"/>
<ellipse cx="884" cy="589" rx="15" ry="25" transform="rotate(25 884 589)" fill="none" stroke="#000" stroke-width="1.2"/>
<path d="M866,606 Q870,616 880,619" fill="none" stroke="#000" stroke-width="1.2" stroke-linejoin="round" stroke-linecap="round" stroke-dasharray="2 1.5"/>
<path d="M870,613 L872,620 L880,621 L882,614 Z" fill="url(#st2)" stroke="#000" stroke-width="1.6" stroke-linejoin="round" stroke-linecap="round" />
<g transform="translate(926.8,618.3) rotate(32)">
<rect x="88" y="-9" width="14" height="18" rx="3" fill="#f41010" stroke="#f41010" stroke-width="2.2"/>
<path d="M93,-4 L97,-2 M92,2 L96,5 M97,2 L99,-3" stroke="#fff" stroke-width="1.1"/>
<path d="M0,-24 L75,-24 Q88,-18 92,-8 L92,12 Q85,20 71,24.6 L0,24 Q-18,20 -18,0 Q-18,-20 0,-24 Z" fill="#fff" stroke="#f41010" stroke-width="2.4" stroke-linejoin="round" stroke-linecap="round" />
<path d="M-15.0,-14.8 A7 14.8 0 0 0 -15.0,14.8" fill="none" stroke="#f41010" stroke-width="1.9"/>
<path d="M-10.7,-21.1 A7 21.1 0 0 0 -10.7,21.1" fill="none" stroke="#f41010" stroke-width="1.9"/>
<path d="M-6.4,-23.6 A7 23.6 0 0 0 -6.4,23.6" fill="none" stroke="#f41010" stroke-width="1.9"/>
<path d="M-2.1,-24.0 A7 24.0 0 0 0 -2.1,24.0" fill="none" stroke="#f41010" stroke-width="1.9"/>
<path d="M2.2,-24.0 A7 24.0 0 0 0 2.2,24.0" fill="none" stroke="#f41010" stroke-width="1.9"/>
<path d="M6.5,-24.0 A7 24.0 0 0 0 6.5,24.0" fill="none" stroke="#f41010" stroke-width="1.9"/>
<path d="M10.8,-24.0 A7 24.0 0 0 0 10.8,24.0" fill="none" stroke="#f41010" stroke-width="1.9"/>
<path d="M15.1,-24.0 A7 24.0 0 0 0 15.1,24.0" fill="none" stroke="#f41010" stroke-width="1.9"/>
<path d="M19.4,-24.0 A7 24.0 0 0 0 19.4,24.0" fill="none" stroke="#f41010" stroke-width="1.9"/>
<path d="M23.7,-24.0 A7 24.0 0 0 0 23.7,24.0" fill="none" stroke="#f41010" stroke-width="1.9"/>
<path d="M28.0,-24.0 A7 24.0 0 0 0 28.0,24.0" fill="none" stroke="#f41010" stroke-width="1.9"/>
<path d="M32.3,-24.0 A7 24.0 0 0 0 32.3,24.0" fill="none" stroke="#f41010" stroke-width="1.9"/>
<path d="M36.6,-24.0 A7 24.0 0 0 0 36.6,24.0" fill="none" stroke="#f41010" stroke-width="1.9"/>
<path d="M40.9,-24.0 A7 24.0 0 0 0 40.9,24.0" fill="none" stroke="#f41010" stroke-width="1.9"/>
<path d="M45.2,-24.0 A7 24.0 0 0 0 45.2,24.0" fill="none" stroke="#f41010" stroke-width="1.9"/>
<path d="M49.5,-24.0 A7 24.0 0 0 0 49.5,24.0" fill="none" stroke="#f41010" stroke-width="1.9"/>
<path d="M53.8,-24.0 A7 24.0 0 0 0 53.8,24.0" fill="none" stroke="#f41010" stroke-width="1.9"/>
<path d="M58.1,-24.0 A7 24.0 0 0 0 58.1,24.0" fill="none" stroke="#f41010" stroke-width="1.9"/>
<path d="M62.4,-24.0 A7 24.0 0 0 0 62.4,24.0" fill="none" stroke="#f41010" stroke-width="1.9"/>
<path d="M66.7,-24.0 A7 24.0 0 0 0 66.7,24.0" fill="none" stroke="#f41010" stroke-width="1.9"/>
<path d="M71.0,-23.4 A7 23.4 0 0 0 71.0,23.4" fill="none" stroke="#f41010" stroke-width="1.9"/>
<path d="M75.3,-20.6 A7 20.6 0 0 0 75.3,20.6" fill="none" stroke="#f41010" stroke-width="1.9"/>
<path d="M79.6,-17.9 A7 17.9 0 0 0 79.6,17.9" fill="none" stroke="#f41010" stroke-width="1.9"/>
<path d="M83.9,-15.2 A7 15.2 0 0 0 83.9,15.2" fill="none" stroke="#f41010" stroke-width="1.9"/>
<path d="M80,-6 L95,6 M80,8 L92,-6" fill="none" stroke="#f41010" stroke-width="1.0" stroke-linejoin="round" stroke-linecap="round" />
</g>
<g transform="translate(874,680.5) rotate(35.4)">
<path d="M0,-4.6 L30,-4.6 L31,-6 L58,-6 L59,-4.6 L98,-4.6 Q101,0 98,4.6 L59,4.6 L58,6 L31,6 L30,4.6 L0,4.6 Z" fill="#fff" stroke="#000" stroke-width="1.8" stroke-linejoin="round" stroke-linecap="round" />
<path d="M36,-6 L36,6 M39,-6 L39,6 M54,-6 L54,6 M12,-4.6 L12,4.6" fill="none" stroke="#000" stroke-width="1.1" stroke-linejoin="round" stroke-linecap="round" />
<path d="M40,0 L53,0" fill="none" stroke="#000" stroke-width="2.0" stroke-linejoin="round" stroke-linecap="round" stroke-dasharray="1.5 1.5"/>
<ellipse cx="97" cy="0" rx="2.2" ry="4.6" fill="none" stroke="#000" stroke-width="1.1"/>
</g>
<path d="M842.1,661.2 C843.2,659.8 846.0,660.0 848.2,659.1 C850.4,658.2 852.6,656.6 855.3,656.1 C858.0,655.6 862.5,655.4 864.5,656.1 C866.5,656.8 865.5,658.2 867.5,660.2 C869.5,662.2 874.9,665.9 876.6,668.3 C878.3,670.7 878.0,672.7 877.7,674.4 C877.4,676.1 875.8,676.7 874.6,678.4 C873.4,680.1 873.0,683.1 870.5,684.5 C868.0,685.9 863.1,687.1 859.4,686.6 C855.7,686.1 850.6,683.4 848.2,681.5 C845.8,679.6 846.3,677.8 845.2,675.4 C844.1,673.0 842.1,669.7 841.6,667.3 C841.1,664.9 841.0,662.6 842.1,661.2 Z" fill="url(#st3)" stroke="#000" stroke-width="1.8" stroke-linejoin="round" stroke-linecap="round" />
<ellipse cx="870" cy="676" rx="5" ry="7" transform="rotate(30 870 676)" fill="#fff" stroke="#000" stroke-width="1.3"/>
<path d="M850,662 Q846,672 852,682 M858,659 Q853,670 858,684" fill="none" stroke="#000" stroke-width="1.0" stroke-linejoin="round" stroke-linecap="round" stroke-dasharray="2 1.5"/>
<path d="M1026.7,673.4 Q1033,672 1039.9,679.5 Q1041.5,685 1038.6,690 Q1037,692 1034.6,692.3 L1032.9,695.8 L1032.9,699.7 Q1032,703 1030.2,703.2 Q1027,703 1024.1,696.6 L1022.3,694.5 L1017.5,696.6 L1015.3,694.9 L1020.1,690.5 Q1017,684 1020.1,679.9 Q1022,675 1026.7,673.4 Z" fill="#fff" stroke="#000" stroke-width="1.7" stroke-linejoin="round" stroke-linecap="round" />
<ellipse cx="1035" cy="685" rx="6" ry="7.5" transform="rotate(15 1035 685)" fill="url(#st3)" stroke="#000" stroke-width="1.8"/>
<path d="M1024,677 Q1020,686 1024,694" fill="none" stroke="#000" stroke-width="1.0" stroke-linejoin="round" stroke-linecap="round" stroke-dasharray="1.5 1.5"/>
<path d="M984.3,747.9 C987.4,747.5 988.7,749.5 994.0,753.2 C999.3,756.9 1010.6,765.4 1016.0,769.9 C1021.4,774.4 1023.9,776.6 1026.5,780.4 C1029.1,784.2 1029.5,789.2 1031.8,792.7 C1034.1,796.2 1037.1,798.7 1040.6,801.5 C1044.1,804.3 1048.7,807.1 1052.9,809.4 C1057.1,811.6 1063.5,811.6 1066.0,815.0 C1068.5,818.4 1070.2,828.0 1068.0,830.0 C1065.8,832.0 1057.3,828.5 1052.9,827.0 C1048.5,825.5 1045.9,823.7 1041.5,820.8 C1037.1,817.9 1030.0,812.9 1026.5,809.4 C1023.0,805.9 1022.1,802.9 1020.4,799.7 C1018.6,796.5 1017.9,792.6 1016.0,790.1 C1014.1,787.6 1014.0,788.3 1008.9,784.8 C1003.8,781.3 990.8,772.7 985.2,769.0 C979.6,765.3 977.1,765.0 975.5,762.8 C973.9,760.6 974.0,758.3 975.5,755.8 C977.0,753.3 981.2,748.3 984.3,747.9 Z" fill="url(#st1)" stroke="#000" stroke-width="1.7" stroke-linejoin="round" stroke-linecap="round" />
<path d="M1068.4,819.3 Q1078,811 1090.6,812.3 Q1099,816 1100.2,823.1 L1098.3,830.7 L1095.7,840.9 Q1091,846 1084.9,846 Q1079,846 1075.4,843.4 L1067.1,835.8 L1066,826 Z" fill="url(#st1)" stroke="#000" stroke-width="1.8" stroke-linejoin="round" stroke-linecap="round" />
<path d="M1068,828 Q1082,834 1098,830" fill="none" stroke="#000" stroke-width="1.3" stroke-linejoin="round" stroke-linecap="round" stroke-dasharray="2.5 1.5"/>
<path d="M1084,834 L1084,846" fill="none" stroke="#000" stroke-width="1.0" stroke-linejoin="round" stroke-linecap="round" />
<path d="M1076.7,820 L1079.2,809 L1079.2,795 Q1084,791 1088.7,795 L1088.7,809 L1090.6,820 Z" fill="url(#st1)" stroke="#000" stroke-width="1.8" stroke-linejoin="round" stroke-linecap="round" />
<path d="M1078,819 Q1084,823 1090,819" fill="none" stroke="#000" stroke-width="2.2" stroke-linejoin="round" stroke-linecap="round" />
<ellipse cx="980" cy="758" rx="5" ry="8" transform="rotate(40 980 758)" fill="none" stroke="#000" stroke-width="1.1" stroke-dasharray="2 1.5"/>
<path d="M994,753.2 L985.2,769" fill="none" stroke="#000" stroke-width="1.2" stroke-linejoin="round" stroke-linecap="round" stroke-dasharray="2 1.5"/>
<path d="M992,763 L1020,782" fill="none" stroke="#000" stroke-width="1.0" stroke-linejoin="round" stroke-linecap="round" stroke-dasharray="2 2"/>
</svg></body></html>
